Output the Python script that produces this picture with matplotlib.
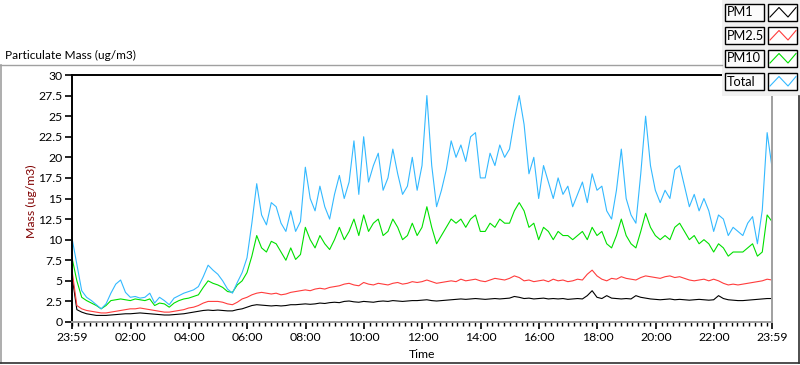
import numpy as np
import matplotlib.pyplot as plt
from matplotlib.lines import Line2D
from matplotlib.patches import Rectangle

plt.rcParams['font.family'] = ['Lato', 'DejaVu Sans']

# readings every 10 minutes, starting at 23:59 (one row per hour)
total = [
    10.2, 7.0, 3.8, 3.0, 2.6, 2.1,
    1.6, 2.2, 3.5, 4.6, 5.1, 3.6,
    3.0, 3.1, 2.9, 3.0, 3.5, 2.3,
    3.0, 2.6, 2.1, 2.9, 3.2, 3.5,
    3.7, 3.9, 4.3, 5.5, 6.9, 6.3,
    5.8, 5.0, 4.0, 3.5, 4.8, 6.0,
    7.8, 12.0, 16.8, 13.0, 11.8, 14.5,
    14.0, 12.0, 11.0, 13.5, 11.0, 12.2,
    18.8, 15.0, 13.5, 16.5, 14.0, 12.5,
    15.5, 17.8, 15.0, 17.0, 22.0, 15.5,
    22.5, 17.0, 19.0, 20.5, 16.0, 17.5,
    21.0, 18.0, 15.5, 16.5, 20.0, 16.0,
    19.0, 27.5, 19.0, 14.0, 16.0, 18.5,
    22.0, 20.0, 21.5, 19.5, 22.5, 23.0,
    17.5, 17.5, 20.5, 19.0, 21.5, 20.0,
    21.0, 24.5, 27.5, 24.0, 18.0, 20.0,
    15.0, 19.0, 17.0, 15.0, 17.5, 15.5,
    16.5, 14.0, 15.5, 17.0, 14.5, 18.0,
    16.0, 16.5, 13.5, 12.5, 16.0, 21.0,
    15.0, 13.0, 12.0, 18.0, 25.0, 19.0,
    16.0, 14.5, 16.0, 15.0, 18.5, 19.0,
    16.5, 14.0, 15.5, 13.5, 15.0, 13.5,
    11.0, 13.0, 12.5, 10.5, 11.5, 11.0,
    10.5, 12.0, 12.8, 9.5, 13.6, 23.0,
    18.8,
]
pm10 = [
    7.8, 5.0, 3.0, 2.6, 2.3, 2.0,
    1.6, 2.0, 2.6, 2.7, 2.8, 2.7,
    2.6, 2.8, 2.7, 2.6, 2.8, 2.0,
    2.3, 2.2, 1.8, 2.3, 2.6, 2.8,
    2.9, 3.1, 3.3, 4.2, 5.0, 4.7,
    4.5, 4.2, 3.7, 3.6, 4.5, 5.0,
    6.0, 8.0, 10.5, 9.0, 8.5, 9.8,
    9.5, 8.5, 7.5, 9.0, 7.6, 8.2,
    11.5, 10.0, 9.0, 10.5, 9.5, 8.8,
    10.0, 11.5, 10.0, 11.0, 12.5, 10.5,
    13.0, 11.0, 12.0, 12.5, 10.5, 11.0,
    12.5, 11.5, 10.0, 10.5, 12.0, 10.5,
    11.5, 14.0, 11.5, 9.5, 10.5, 11.5,
    12.5, 12.0, 12.5, 11.5, 12.5, 13.0,
    11.0, 11.0, 12.0, 11.5, 12.5, 12.0,
    12.0, 13.5, 14.5, 13.5, 11.5, 12.0,
    10.0, 11.5, 11.0, 10.0, 11.0, 10.5,
    10.5, 10.0, 10.5, 11.0, 10.0, 11.5,
    10.5, 11.0, 9.5, 9.0, 10.5, 12.5,
    10.5, 9.5, 9.0, 11.0, 13.2, 11.5,
    10.5, 10.0, 10.5, 10.0, 11.5, 12.0,
    11.0, 10.0, 10.5, 9.5, 10.0, 9.5,
    8.5, 9.5, 9.0, 8.0, 8.5, 8.5,
    8.5, 9.0, 9.5, 8.0, 8.5, 13.0,
    12.2,
]
pm25 = [
    6.3, 2.0, 1.6, 1.4, 1.3, 1.2,
    1.1, 1.1, 1.2, 1.3, 1.4, 1.5,
    1.6, 1.6, 1.7, 1.6, 1.5, 1.4,
    1.3, 1.2, 1.2, 1.3, 1.4, 1.5,
    1.7, 1.8, 2.0, 2.3, 2.5, 2.5,
    2.5, 2.4, 2.2, 2.1, 2.4, 2.8,
    3.0, 3.3, 3.5, 3.6, 3.5, 3.4,
    3.5, 3.3, 3.4, 3.6, 3.7, 3.8,
    3.9, 3.8, 4.0, 4.1, 4.0, 4.2,
    4.3, 4.4, 4.6, 4.7, 4.5, 4.4,
    4.8, 4.6, 4.5, 4.7, 4.6, 4.5,
    4.7, 4.8, 4.6, 4.7, 4.9, 4.8,
    4.9, 5.1, 4.9, 4.7, 4.8, 4.9,
    5.0, 4.9, 5.2, 5.0, 5.1, 5.2,
    5.0, 4.9, 5.1, 5.3, 5.2, 5.1,
    5.3, 5.6, 5.4, 5.0, 5.1, 4.9,
    5.0, 5.1, 4.9, 5.2, 5.0, 5.1,
    4.9, 5.0, 5.2, 5.1, 5.8, 6.3,
    5.6, 5.2, 5.0, 5.3, 5.2, 5.5,
    5.3, 5.2, 5.1, 5.4, 5.6, 5.5,
    5.4, 5.3, 5.5, 5.6, 5.4, 5.5,
    5.3, 5.1, 5.0, 5.1, 5.2, 5.0,
    5.2, 5.0, 4.7, 4.5, 4.6, 4.5,
    4.6, 4.7, 4.8, 4.9, 5.0, 5.2,
    5.1,
]
pm1 = [
    5.6, 1.5, 1.2, 1.0, 0.9, 0.8,
    0.8, 0.8, 0.85, 0.9, 0.95, 1.0,
    1.0, 1.05, 1.1, 1.05, 1.0, 0.95,
    0.9, 0.85, 0.85, 0.9, 0.95, 1.0,
    1.1, 1.2, 1.3, 1.4, 1.45, 1.4,
    1.45, 1.4, 1.35, 1.35, 1.5, 1.6,
    1.8, 2.0, 2.1, 2.05, 2.0, 1.95,
    2.0, 1.95, 2.0, 2.1, 2.1, 2.15,
    2.2, 2.15, 2.2, 2.3, 2.25, 2.35,
    2.4, 2.35, 2.5, 2.55, 2.45, 2.4,
    2.5, 2.45, 2.4, 2.5, 2.55, 2.5,
    2.6, 2.55, 2.5, 2.55, 2.6, 2.6,
    2.65, 2.7, 2.6, 2.55, 2.6, 2.65,
    2.7, 2.75, 2.8, 2.75, 2.8, 2.85,
    2.8, 2.75, 2.8, 2.85, 2.8, 2.85,
    2.9, 3.1, 3.0, 2.85, 2.9, 2.8,
    2.85, 2.9, 2.8, 2.85, 2.8, 2.85,
    2.75, 2.8, 2.85, 2.8, 3.2, 3.8,
    3.0, 2.85, 3.2, 2.9, 2.85, 2.8,
    2.85, 2.8, 3.2, 3.0, 2.9, 2.8,
    2.75, 2.7, 2.75, 2.8, 2.7, 2.75,
    2.7, 2.65, 2.7, 2.75, 2.7, 2.65,
    2.7, 3.2, 2.85, 2.7, 2.65, 2.6,
    2.6, 2.65, 2.7, 2.75, 2.8, 2.85,
    2.85,
]
hours = np.arange(len(total)) / 6.0

tick_hours = [0] + [h + 1 / 60 for h in range(2, 24, 2)] + [24]
tick_labels = ['23:59'] + ['%02d:00' % h for h in range(2, 24, 2)] + ['23:59']

W, H = 800, 365
fig = plt.figure(figsize=(W / 100, H / 100), dpi=100)


def fx(px):
    return px / W


def fy(py):
    return 1 - py / H


ax = fig.add_axes([fx(72), fy(322), 700 / W, 247 / H])
ax.plot(hours, pm1, color='black', lw=0.8)
ax.plot(hours, pm25, color='#ff3c3c', lw=0.8)
ax.plot(hours, pm10, color='#00e000', lw=0.8)
ax.plot(hours, total, color='#33b9ff', lw=0.8)

ax.set_xlim(0, 24)
ax.set_ylim(0, 30)
ax.set_yticks(np.arange(0, 30.1, 2.5))
ax.set_yticklabels(['%g' % v for v in np.arange(0, 30.1, 2.5)])
ax.set_xticks(tick_hours)
ax.set_xticklabels(tick_labels)
ax.set_xticks(np.arange(1 / 60, 24, 0.2), minor=True)
ax.tick_params(which='major', direction='out', length=5, width=1.2,
               color='black', labelsize=8.8, pad=2)
ax.tick_params(axis='x', which='minor', direction='out', length=3,
               width=1.0, color='black')

for side in ['left', 'top']:
    ax.spines[side].set_color('black')
    ax.spines[side].set_linewidth(1.4)
for side in ['right', 'bottom']:
    ax.spines[side].set_color('#a0a0a0')
    ax.spines[side].set_linewidth(1.4)

ax.set_ylabel('Mass (ug/m3)', fontsize=8.8, color='#800000', va='center')
ax.yaxis.set_label_coords((31 - 72) / 700, 0.49)
ax.set_xlabel('Time', fontsize=8.8, va='center')
ax.xaxis.set_label_coords(0.5, -32 / 247)

fig.text(fx(5), fy(55), 'Particulate Mass (ug/m3)', fontsize=8.6,
         va='center', ha='left')

# outer frame of the graph panel
fig.add_artist(Line2D([fx(0), fx(722)], [fy(65), fy(65)], color='#a0a0a0', lw=1))
fig.add_artist(Line2D([fx(0.5), fx(0.5)], [fy(65), fy(363)], color='#a0a0a0', lw=1.2))
fig.add_artist(Line2D([fx(0), fx(799)], [fy(363), fy(363)], color='#303030', lw=1.2))
fig.add_artist(Line2D([fx(798.5), fx(798.5)], [fy(96), fy(363)], color='#303030', lw=1.2))

# plot legend panel
fig.add_artist(Rectangle((fx(722), fy(96)), 78 / W, 96 / H,
                         facecolor='#f0f0f0', edgecolor='none'))
legend_names = ['PM1', 'PM2.5', 'PM10', 'Total']
legend_colors = ['black', '#ff3c3c', '#00e000', '#33b9ff']
for i, (name, col) in enumerate(zip(legend_names, legend_colors)):
    top = 4 + 23 * i
    fig.add_artist(Rectangle((fx(725), fy(top + 17)), 39 / W, 17 / H,
                             facecolor='#fbfbfb', edgecolor='black', lw=1))
    fig.text(fx(727), fy(top + 8.5), name, fontsize=9.2, va='center', ha='left')
    fig.add_artist(Rectangle((fx(768), fy(top + 17)), 29 / W, 17 / H,
                             facecolor='white', edgecolor='black', lw=1))
    fig.add_artist(Line2D([fx(770), fx(779), fx(788), fx(796)],
                          [fy(top + 13), fy(top + 3.5), fy(top + 13), fy(top + 3.5)],
                          color=col, lw=0.8))

fig.savefig('out.png', dpi=100)
